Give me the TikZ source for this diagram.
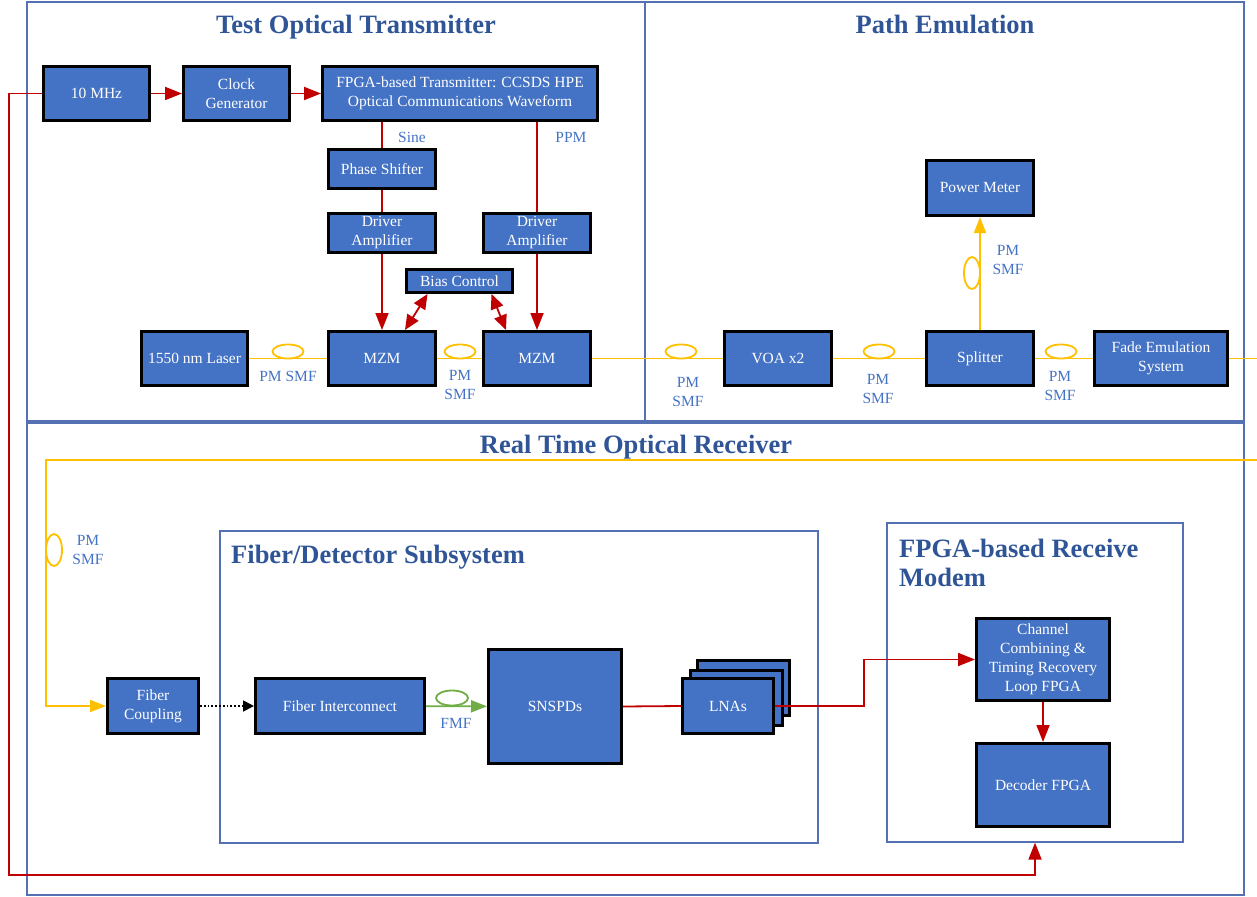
\documentclass[tikz,border=0pt]{standalone}
\usepackage{fontspec}
\setmainfont{Liberation Serif}
\usetikzlibrary{arrows.meta,calc}
\definecolor{boxblue}{RGB}{68,114,196}
\definecolor{ttlblue}{RGB}{47,85,151}
\definecolor{frmblue}{RGB}{84,113,180}
\definecolor{redl}{RGB}{192,0,0}
\definecolor{yell}{RGB}{255,192,0}
\definecolor{grn}{RGB}{112,173,71}
\definecolor{lblblue}{RGB}{68,114,196}
\begin{document}
\begin{tikzpicture}[x=1pt,y=-1pt,
 blk/.style={draw=black, line width=3pt, fill=boxblue, text=white, align=center, inner sep=0pt, font=\fontsize{15.5}{19}\selectfont},
 frm/.style={draw=frmblue, line width=1.3pt, inner sep=0pt},
 ttl/.style={text=ttlblue, font=\fontsize{26.5}{29}\selectfont\bfseries, inner sep=0pt},
 lbl/.style={text=lblblue, font=\fontsize{15.5}{19}\selectfont, align=center, inner sep=0pt},
 rd/.style={draw=redl, line width=1.8pt},
 rda/.style={rd, -{Triangle[length=17pt,width=13pt]}},
 rdd/.style={rd, {Triangle[length=15pt,width=13pt]}-{Triangle[length=15pt,width=13pt]}},
 yl/.style={draw=yell, line width=1.8pt},
 yla/.style={yl, -{Triangle[length=16pt,width=12pt]}},
 gra/.style={draw=grn, line width=1.8pt, -{Triangle[length=16pt,width=12pt]}},
 dta/.style={draw=black, line width=1.8pt, dotted, -{Triangle[length=11pt,width=11pt]}},
]
\useasboundingbox (0,0) rectangle (1257,896);
% frames
\node[frm, minimum width=618pt, minimum height=419pt] (ftx) at (336,211.5) {};
\node[frm, minimum width=599pt, minimum height=419pt] (fpath) at (944.5,211.5) {};
\node[frm, minimum width=1217pt, minimum height=472pt] (frx) at (635.5,659) {};
\node[frm, minimum width=598pt, minimum height=312pt] (ffds) at (519,687) {};
\node[frm, minimum width=296pt, minimum height=319pt] (fmodem) at (1035,682.5) {};
% titles
\node[ttl, anchor=base] (t1) at (356,33.5) {Test Optical Transmitter};
\node[ttl, anchor=base] (t2) at (945,33.5) {Path Emulation};
\node[ttl, anchor=base] (t3) at (636,453.5) {Real Time Optical Receiver};
\node[ttl, anchor=base west] (t4) at (231,563.5) {Fiber/Detector Subsystem};
\node[ttl, anchor=west, align=left] (t5) at (899,562.5) {FPGA-based Receive\\Modem};
% boxes
\node[blk, minimum width=106pt, minimum height=54pt] (m10) at (96.5,93.5) {10 MHz};
\node[blk, minimum width=106pt, minimum height=54pt] (clk) at (236.5,93.5) {Clock\\Generator};
\node[blk, minimum width=275pt, minimum height=54pt] (fpga) at (460,93.5) {FPGA-based Transmitter: CCSDS HPE\\Optical Communications Waveform};
\node[blk, minimum width=107pt, minimum height=39pt] (phase) at (382,169) {Phase Shifter};
\node[blk, minimum width=107pt, minimum height=39pt] (drv1) at (382,233) {Driver\\Amplifier};
\node[blk, minimum width=107pt, minimum height=39pt] (drv2) at (537,233) {Driver\\Amplifier};
\node[blk, minimum width=106pt, minimum height=23pt] (bias) at (459.5,281) {Bias Control};
\node[blk, minimum width=106pt, minimum height=54pt] (laser) at (194.5,358.5) {1550 nm Laser};
\node[blk, minimum width=107pt, minimum height=54pt] (mzm1) at (382,358.5) {MZM};
\node[blk, minimum width=107pt, minimum height=54pt] (mzm2) at (537,358.5) {MZM};
\node[blk, minimum width=107pt, minimum height=54pt] (voa) at (778,358.5) {VOA x2};
\node[blk, minimum width=107pt, minimum height=54pt] (split) at (980,358.5) {Splitter};
\node[blk, minimum width=133pt, minimum height=54pt] (fade) at (1161,358.5) {Fade Emulation\\System};
\node[blk, minimum width=107pt, minimum height=55pt] (pmeter) at (980,188) {Power Meter};
\node[blk, minimum width=91pt, minimum height=55pt] (fcoup) at (153,706) {Fiber\\Coupling};
\node[blk, minimum width=169pt, minimum height=55pt] (fint) at (340,706) {Fiber Interconnect};
\node[blk, minimum width=133pt, minimum height=114pt] (snspd) at (555,706.5) {SNSPDs};
\node[blk, minimum width=92pt, minimum height=55pt] (lna3) at (743.5,688) {};
\node[blk, minimum width=92pt, minimum height=55pt] (lna2) at (736,698) {};
\node[blk, minimum width=91pt, minimum height=55pt] (lna) at (728,706) {LNAs};
\node[blk, minimum width=133pt, minimum height=82pt] (chan) at (1043,659.5) {Channel\\Combining \&\\Timing Recovery\\Loop FPGA};
\node[blk, minimum width=133pt, minimum height=83pt] (dec) at (1043,785) {Decoder FPGA};
% red connectors
\draw[rda] (m10) -- (clk);
\draw[rda] (clk) -- (fpga);
\draw[rd] (fpga.south -| phase.north) -- (phase.north);
\draw[rd] (phase) -- (drv1);
\draw[rda] (drv1) -- (mzm1);
\draw[rd] (fpga.south -| drv2.north) -- (drv2.north);
\draw[rda] (drv2) -- (mzm2);
\draw[rdd] ($(bias.south)+(-32,0)$) -- ($(mzm1.north)+(23,0)$);
\draw[rdd] ($(bias.south)+(32,0)$) -- ($(mzm2.north)+(-31,0)$);
\coordinate (loopc) at (1035,875);
\draw[rda] (m10.west) -- (9,93.5) -- (9,875) -- (loopc) -- (loopc |- fmodem.south);
\draw[rd] (snspd.east) -- (lna.west);
\draw[rda] (lna.east) -- (864,706) -- (864,659.5) -- (chan.west);
\draw[rda] (chan) -- (dec);
% yellow fibers
\draw[yl] (laser) -- (mzm1);
\draw[yl] (mzm1) -- (mzm2);
\draw[yl] (mzm2) -- (voa);
\draw[yl] (voa) -- (split);
\draw[yl] (split) -- (fade);
\coordinate (outA) at (1257,358.5);
\draw[yl] (fade.east) -- (outA);
\draw[yla] (split) -- (pmeter);
\coordinate (inB) at (1257,460);
\draw[yla] (inB) -- (46,460) -- (46,706) -- (fcoup.west);
\draw[yl] (288,351.5) ellipse [x radius=15.5, y radius=7];
\draw[yl] (460,351.5) ellipse [x radius=15.5, y radius=7];
\draw[yl] (681,351.5) ellipse [x radius=15.5, y radius=7];
\draw[yl] (879,351.5) ellipse [x radius=15.5, y radius=7];
\draw[yl] (1061,351.5) ellipse [x radius=15.5, y radius=7];
\draw[yl] (972,273) ellipse [x radius=8, y radius=16];
\draw[yl] (54,550) ellipse [x radius=8, y radius=16];
% other fibers
\draw[dta] (fcoup) -- (fint);
\draw[gra] (fint) -- (snspd);
\draw[draw=grn, line width=1.8pt] (452,698) ellipse [x radius=16, y radius=7.5];
% labels
\node[lbl] (lsine) at (412,137) {Sine};
\node[lbl] (lppm) at (571,137) {PPM};
\node[lbl] (l1) at (288,376) {PM SMF};
\node[lbl] (l2) at (460,385) {PM\\SMF};
\node[lbl] (l3) at (688,392) {PM\\SMF};
\node[lbl] (l4) at (878,389) {PM\\SMF};
\node[lbl] (l5) at (1060,386) {PM\\SMF};
\node[lbl] (l6) at (1008,259.5) {PM\\SMF};
\node[lbl] (l7) at (88,550) {PM\\SMF};
\node[lbl] (l8) at (456,723) {FMF};
\end{tikzpicture}
\end{document}
